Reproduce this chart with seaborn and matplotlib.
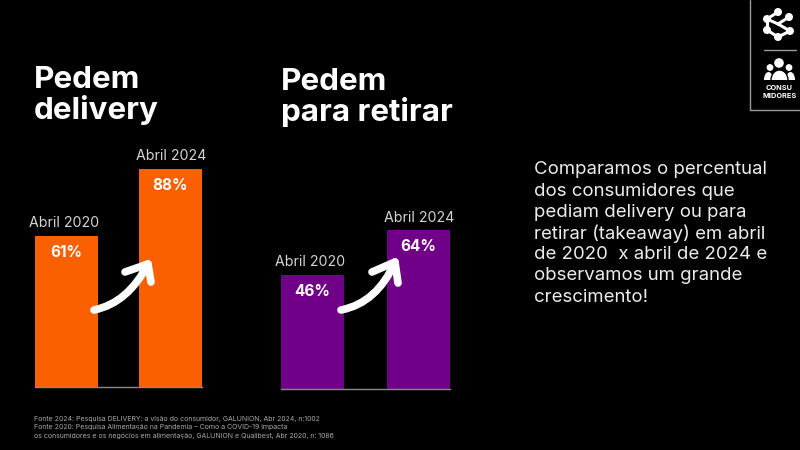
import matplotlib
matplotlib.use("Agg")
import matplotlib.pyplot as plt
import pandas as pd
import seaborn as sns
from matplotlib.patches import Circle, Ellipse, PathPatch, Rectangle
from matplotlib.path import Path

periods = ["Abril 2020", "Abril 2024"]
delivery = [61, 88]
takeaway = [46, 64]
title_delivery = "Pedem\ndelivery"
title_takeaway = "Pedem\npara retirar"
body_lines = ["Comparamos o percentual", "dos consumidores que", "pediam delivery ou para",
              "retirar (takeaway) em abril", "de 2020  x abril de 2024 e",
              "observamos um grande", "crescimento!"]
source_lines = ["Fonte 2024: Pesquisa DELIVERY: a visão do consumidor, GALUNION, Abr 2024, n:1002",
                "Fonte 2020: Pesquisa Alimentação na Pandemia – Como a COVID-19 impacta",
                "os consumidores e os negócios em alimentação, GALUNION e Qualibest, Abr 2020, n: 1086"]

sns.set_theme(style="white")
plt.rcParams["font.family"] = ["Inter", "DejaVu Sans"]
BG = "#000000"
W, H = 800, 450
fig = plt.figure(figsize=(8, 4.5), dpi=100, facecolor=BG)


def panel(left, right, base, values, color, bar_w):
    """Axes that span the two bars; 100 units are 248 px tall."""
    ax = fig.add_axes([left / W, 1 - base / H, (right - left) / W, 248 / H], facecolor="none")
    df = pd.DataFrame({"period": periods, "value": values})
    sns.barplot(data=df, x="period", y="value", color=color, width=bar_w,
                saturation=1, ax=ax, linewidth=0)
    ax.set_xlim(-bar_w / 2, 1 + bar_w / 2)
    ax.set_ylim(0, 100)
    ax.set_xlabel("")
    ax.set_ylabel("")
    ax.set_xticks([])
    ax.set_yticks([])
    for s in ("top", "left", "right"):
        ax.spines[s].set_visible(False)
    ax.spines["bottom"].set_color("#8a8a8a")
    ax.spines["bottom"].set_linewidth(1)
    for i, (p, v) in enumerate(zip(periods, values)):
        dx = -1.8 if i == 0 else 0.3
        ax.annotate(p, (i, v), xytext=(dx, 4), textcoords="offset points", ha="center", va="bottom",
                    color="#d4d4d4", fontsize=10.2)
        ax.annotate(f"{v}%", (i, v), xytext=(0, -6.5), textcoords="offset points", ha="center", va="top",
                    color="white", fontsize=11, fontweight="bold")
    return ax


panel(35, 202, 387, delivery, "#FA5F00", 0.606)
panel(281, 450, 389, takeaway, "#6F0087", 0.594)

ov = fig.add_axes([0, 0, 1, 1], facecolor="none", zorder=5)
ov.set_xlim(0, W)
ov.set_ylim(H, 0)
ov.axis("off")


def arrow(start, ctrl, tip, left, right):
    ov.add_patch(PathPatch(Path([start, ctrl, tip], [Path.MOVETO, Path.CURVE3, Path.CURVE3]),
                           fc="none", ec="white", lw=5.5, capstyle="round"))
    ov.plot([left[0], tip[0], right[0]], [left[1], tip[1], right[1]], color="white", lw=5.5,
            solid_capstyle="round", solid_joinstyle="round")


arrow((94, 310), (128, 303), (148, 264), (125, 272), (151, 282))
arrow((341, 310), (377, 303), (395, 262), (372, 272), (398, 283))

ov.text(34, 95.5, title_delivery, color="white", fontsize=22.6, fontweight="bold", va="center", ha="left",
        linespacing=1.06)
ov.text(281, 97.5, title_takeaway, color="white", fontsize=22.6, fontweight="bold", va="center", ha="left",
        linespacing=1.06)

for i, line in enumerate(body_lines):
    ov.text(534, 170 + i * 21.2, line, color="#ececec", fontsize=13.4, va="center", ha="left")
for y, line in zip((419, 427.5, 436), source_lines):
    ov.text(34, y, line, color="#a8a8a8", fontsize=5.0, va="center", ha="left")

# Corner badge
ov.plot([749.5, 749.5, 800], [0, 110, 110], color="#9a9a9a", lw=1)
ov.plot([764, 796], [50, 50], color="#9a9a9a", lw=1)
nodes = [(778, 12), (767, 19), (767, 30), (778, 37), (790, 31), (789, 17), (778, 24)]
for a, b in [(0, 1), (1, 2), (2, 3), (3, 4), (6, 4), (5, 6), (1, 6)]:
    ov.plot([nodes[a][0], nodes[b][0]], [nodes[a][1], nodes[b][1]], color="white", lw=2.2)
for c in nodes[:-1]:
    ov.add_patch(Circle(c, 4, fc="white", ec="none"))

for cx, w, h in [(768.5, 9, 16), (790.5, 9, 16)]:
    ov.add_patch(Ellipse((cx, 80), w, h, fc="white", ec="none"))
ov.add_patch(Ellipse((779.5, 80), 17, 20, fc="white", ec=BG, lw=1))
ov.add_patch(Rectangle((760, 80), 38, 12, fc=BG, ec="none", zorder=3))
for c, r in [((779, 63), 4.8), ((770, 67.5), 3.4), ((789, 67.5), 3.4)]:
    ov.add_patch(Circle(c, r, fc="white", ec="none"))
ov.text(779.5, 87.5, "CONSU", color="white", fontsize=5.3, fontweight="bold", ha="center", va="center", zorder=4)
ov.text(779.5, 95.8, "MIDORES", color="white", fontsize=5.3, fontweight="bold", ha="center", va="center", zorder=4)

fig.savefig("out.png", dpi=100, facecolor=BG)
